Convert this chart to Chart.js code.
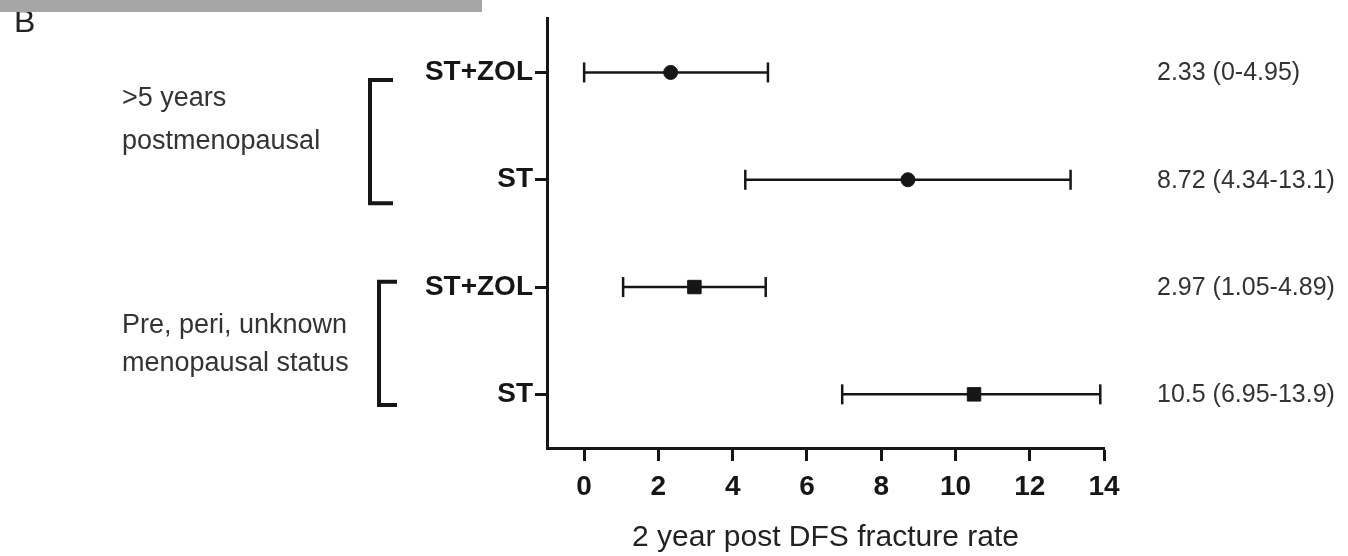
<!DOCTYPE html>
<html>
<head>
<meta charset="utf-8">
<script src="https://cdn.jsdelivr.net/npm/chart.js@4"></script>
<style>
    body { margin: 0; background: #fff; }
    #wrap { width: 1348px; height: 556px; }
</style>
</head>
<body>
<div id="wrap"><canvas id="forestChart" width="1348" height="556"></canvas></div>
<script>
// Data
const rowLabels = ['ST+ZOL', 'ST', 'ST+ZOL', 'ST'];
const estimates = [2.33, 8.72, 2.97, 10.5];
const lowerCI = [0, 4.34, 1.05, 6.95];
const upperCI = [4.95, 13.1, 4.89, 13.9];
const groupLabels = [['>5 years', 'postmenopausal'], ['Pre, peri, unknown', 'menopausal status']];
const groupRows = [[0, 1], [2, 3]];
const xTicks = [0, 2, 4, 6, 8, 10, 12, 14];
const xTitle = '2 year post DFS fracture rate';

const ink = '#161616';

// whisker line for each row, caps drawn as rotated line points
const whiskers = rowLabels.map((label, i) => ({
    type: 'line',
    data: [{ x: lowerCI[i], y: i + 0.5 }, { x: upperCI[i], y: i + 0.5 }],
    borderColor: ink,
    borderWidth: 2.5,
    pointStyle: 'line',
    rotation: 90,
    pointRadius: 10,
    pointBorderWidth: 2.5,
    pointBorderColor: ink,
    clip: false
}));

// point estimates: circles for first group, squares for second
const circles = {
    type: 'scatter',
    data: groupRows[0].map(i => ({ x: estimates[i], y: i + 0.5 })),
    pointStyle: 'circle',
    pointRadius: 7,
    backgroundColor: ink,
    borderColor: ink,
    clip: false
};
const squares = {
    type: 'scatter',
    data: groupRows[1].map(i => ({ x: estimates[i], y: i + 0.5 })),
    pointStyle: 'rect',
    pointRadius: 9.5,
    backgroundColor: ink,
    borderColor: ink,
    clip: false
};

// text annotations: group labels with brackets, values on the right, panel letter
const annotations = {
    id: 'annotations',
    afterDraw(chart) {
        const ctx = chart.ctx;
        const y = chart.scales.y;
        ctx.save();

        // panel letter under a grey strip
        ctx.fillStyle = '#222';
        ctx.font = '32px "Liberation Sans"';
        ctx.textBaseline = 'alphabetic';
        ctx.textAlign = 'left';
        ctx.fillText('B', 14, 32);
        ctx.fillStyle = '#a6a6a6';
        ctx.fillRect(0, 0, 482, 12);

        // brackets
        const brackets = [
            { x: 370, arm: 393, from: 0.57, to: 1.72 },
            { x: 379, arm: 397, from: 2.45, to: 3.6 }
        ];
        ctx.strokeStyle = ink;
        ctx.lineWidth = 4;
        brackets.forEach(b => {
            const top = y.getPixelForValue(b.from);
            const bottom = y.getPixelForValue(b.to);
            ctx.beginPath();
            ctx.moveTo(b.arm, top);
            ctx.lineTo(b.x, top);
            ctx.lineTo(b.x, bottom);
            ctx.lineTo(b.arm, bottom);
            ctx.stroke();
        });

        // group labels
        ctx.fillStyle = '#333';
        ctx.font = '27px "Liberation Sans"';
        ctx.textBaseline = 'middle';
        const groupLines = [[99, 142], [326, 364]];
        groupLabels.forEach((lines, g) => {
            lines.forEach((line, k) => {
                ctx.fillText(line, 122, groupLines[g][k]);
            });
        });

        // estimate (CI) text on the right
        ctx.font = '25px "Liberation Sans"';
        rowLabels.forEach((label, i) => {
            const txt = `${estimates[i]} (${lowerCI[i]}-${upperCI[i]})`;
            ctx.fillText(txt, 1157, y.getPixelForValue(i + 0.5) + 1);
        });

        ctx.restore();
    }
};

new Chart(document.getElementById('forestChart'), {
    data: { datasets: [...whiskers, circles, squares] },
    options: {
        responsive: false,
        animation: false,
        layout: { padding: { left: 0, top: 15, right: 244, bottom: 0 } },
        plugins: {
            legend: { display: false },
            tooltip: { enabled: false }
        },
        scales: {
            x: {
                type: 'linear',
                min: -1,
                max: 14,
                afterBuildTicks: scale => { scale.ticks = xTicks.map(v => ({ value: v })); },
                afterFit: scale => { scale.height = 108; },
                border: { display: true, width: 3, color: ink },
                grid: { drawOnChartArea: false, drawTicks: true, tickLength: 13, tickWidth: 3, tickColor: ink },
                ticks: {
                    color: ink,
                    font: { family: 'Liberation Sans', size: 28, weight: 'bold' },
                    padding: 9,
                    maxRotation: 0
                },
                title: {
                    display: true,
                    text: xTitle,
                    color: '#222',
                    font: { family: 'Liberation Sans', size: 30 },
                    padding: { top: 0, bottom: 0 }
                }
            },
            y: {
                type: 'linear',
                min: 0,
                max: 4,
                reverse: true,
                afterBuildTicks: scale => { scale.ticks = rowLabels.map((l, i) => ({ value: i + 0.5 })); },
                afterFit: scale => { scale.width = 547; },
                border: { display: true, width: 3, color: ink },
                grid: { drawOnChartArea: false, drawTicks: true, tickLength: 12, tickWidth: 3, tickColor: ink },
                ticks: {
                    color: ink,
                    font: { family: 'Liberation Sans', size: 28, weight: 'bold' },
                    padding: 2,
                    callback: (value, index) => rowLabels[index]
                }
            }
        }
    },
    plugins: [annotations]
});
</script>
</body>
</html>
